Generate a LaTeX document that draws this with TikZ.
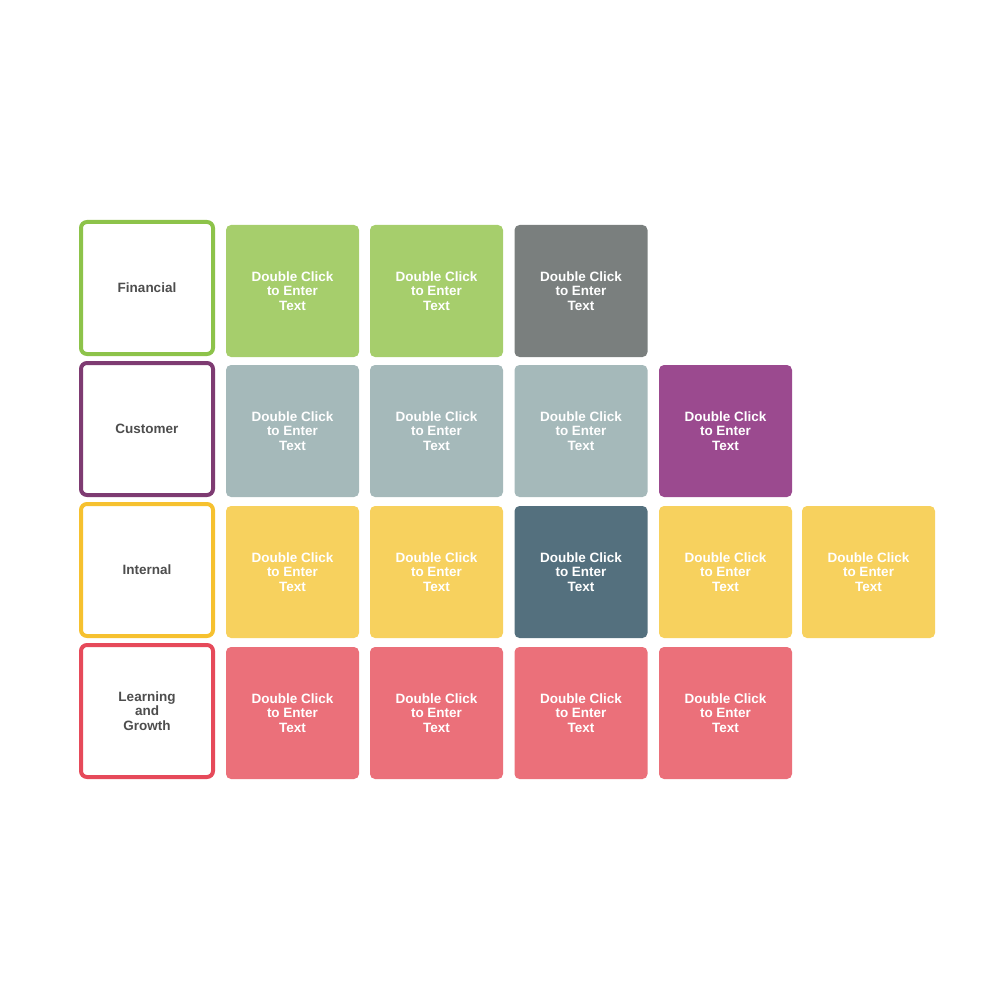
\documentclass[tikz,border=0pt]{standalone}
\usepackage{fontspec}
\setmainfont{Liberation Sans}
\definecolor{cgreen}{HTML}{A6CE6C}
\definecolor{cgray}{HTML}{7A7F7E}
\definecolor{cslate}{HTML}{A5B9BA}
\definecolor{cpurple}{HTML}{9B4A8F}
\definecolor{cyellow}{HTML}{F7D15E}
\definecolor{cdark}{HTML}{54707E}
\definecolor{cred}{HTML}{EB707A}
\definecolor{bgreen}{HTML}{8DC34A}
\definecolor{bpurple}{HTML}{7E3B72}
\definecolor{byellow}{HTML}{F6C12F}
\definecolor{bred}{HTML}{E64A5A}
\definecolor{ltext}{HTML}{4D4D4D}
\tikzset{
  cell/.style={fill=#1, draw=none, rounded corners=5pt, minimum width=133pt, minimum height=132pt,
    text=white, font=\fontsize{13.5}{14.5}\selectfont\bfseries, align=center, inner sep=0pt},
  rowlabel/.style={draw=#1, line width=4pt, fill=white, rounded corners=6pt, minimum width=132pt, minimum height=132pt,
    text=ltext, font=\fontsize{13.5}{14.5}\selectfont\bfseries, align=center, inner sep=0pt}
}
\newcommand{\dct}{Double Click\\to Enter\\Text}
\begin{document}
\begin{tikzpicture}[x=1pt,y=-1pt]
\useasboundingbox (0,0) rectangle (1000,1000);
% row labels
\node[rowlabel=bgreen] (l1) at (147,288) {Financial};
\node[rowlabel=bpurple] (l2) at (147,429) {Customer};
\node[rowlabel=byellow] (l3) at (147,570) {Internal};
\node[rowlabel=bred] (l4) at (147,711) {Learning\\and\\Growth};
% row 1
\node[cell=cgreen] (a1) at (292.5,291) {\dct};
\node[cell=cgreen] (a2) at (436.5,291) {\dct};
\node[cell=cgray]  (a3) at (581,291) {\dct};
% row 2
\node[cell=cslate] (b1) at (292.5,431) {\dct};
\node[cell=cslate] (b2) at (436.5,431) {\dct};
\node[cell=cslate] (b3) at (581,431) {\dct};
\node[cell=cpurple] (b4) at (725.5,431) {\dct};
% row 3
\node[cell=cyellow] (c1) at (292.5,572) {\dct};
\node[cell=cyellow] (c2) at (436.5,572) {\dct};
\node[cell=cdark]   (c3) at (581,572) {\dct};
\node[cell=cyellow] (c4) at (725.5,572) {\dct};
\node[cell=cyellow] (c5) at (868.5,572) {\dct};
% row 4
\node[cell=cred] (d1) at (292.5,713) {\dct};
\node[cell=cred] (d2) at (436.5,713) {\dct};
\node[cell=cred] (d3) at (581,713) {\dct};
\node[cell=cred] (d4) at (725.5,713) {\dct};
\end{tikzpicture}
\end{document}
